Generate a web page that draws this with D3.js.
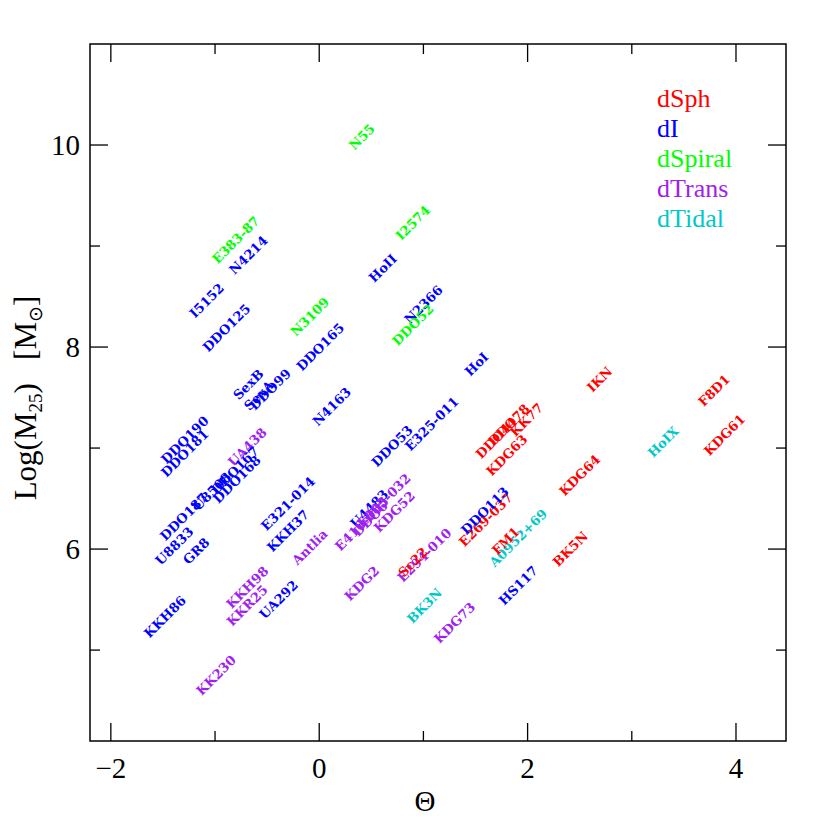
<!DOCTYPE html>
<html>
<head>
<meta charset="utf-8">
<script src="https://cdn.jsdelivr.net/npm/d3@7"></script>
<style>
  body { margin: 0; background: #fff; }
  svg { display: block; }
</style>
</head>
<body>
<svg id="chart" width="830" height="830"></svg>
<script>
// galaxy names, Theta, Log(M25), morphological type
var names = ["N55", "E383-87", "N4214", "I2574", "HoII", "I5152", "N3109", "N2366", "DDO52", "DDO125",
  "DDO165", "SexB", "SexA", "DDO99", "N4163", "HoI", "E325-011", "DDO53", "DDO190", "DDO181",
  "UA438", "DDO187", "U8508", "DDO167", "DDO168", "E321-014", "KKH37", "U8833", "GR8", "Antlia",
  "KKH86", "KKH98", "KKR25", "UA292", "KK230", "U4483", "E410-005", "DDO6", "KDG52", "E383-032",
  "KDG2", "E294-010", "Sc22", "BK3N", "KDG73", "HS117", "A0952+69", "FM1", "E269-037", "DDO113",
  "BK5N", "KDG64", "IKN", "DDO44", "DDO78", "KK77", "KDG63", "HoIX", "F8D1", "KDG61"];
var theta = [0.41, -0.80, -0.68, 0.90, 0.61, -1.08, -0.09, 1.00, 0.90, -0.89,
  0.01, -0.68, -0.58, -0.47, 0.12, 1.51, 1.08, 0.70, -1.29, -1.29,
  -0.69, -1.30, -1.03, -0.81, -0.79, -0.30, -0.30, -1.39, -1.18, -0.09,
  -1.48, -0.69, -0.69, -0.39, -0.99, 0.48, 0.41, 0.49, 0.72, 0.62,
  0.41, 1.01, 0.90, 1.01, 1.30, 1.91, 1.91, 1.79, 1.60, 1.59,
  2.41, 2.50, 2.69, 1.70, 1.82, 1.99, 1.80, 3.30, 3.79, 3.89];
var logM = [10.08, 9.06, 8.91, 9.23, 8.78, 8.46, 8.30, 8.42, 8.22, 8.19,
  8.00, 7.63, 7.52, 7.58, 7.41, 7.83, 7.24, 7.02, 7.08, 6.95,
  7.01, 6.32, 6.57, 6.78, 6.69, 6.45, 6.18, 6.03, 5.98, 6.02,
  5.33, 5.62, 5.44, 5.50, 4.75, 6.40, 6.25, 6.30, 6.37, 6.48,
  5.66, 5.94, 5.87, 5.44, 5.27, 5.64, 6.11, 6.08, 6.29, 6.38,
  6.00, 6.73, 7.68, 7.10, 7.23, 7.28, 6.93, 7.06, 7.57, 7.13];
var types = ["dSpiral", "dSpiral", "dI", "dSpiral", "dI", "dI", "dSpiral", "dI", "dSpiral", "dI",
  "dI", "dI", "dI", "dI", "dI", "dI", "dI", "dI", "dI", "dI",
  "dTrans", "dI", "dI", "dI", "dI", "dI", "dI", "dI", "dI", "dTrans",
  "dI", "dTrans", "dTrans", "dI", "dTrans", "dI", "dTrans", "dTrans", "dTrans", "dTrans",
  "dTrans", "dTrans", "dSph", "dTidal", "dTrans", "dI", "dTidal", "dSph", "dSph", "dI",
  "dSph", "dSph", "dSph", "dSph", "dSph", "dSph", "dSph", "dTidal", "dSph", "dSph"];

var legendTypes = ["dSph", "dI", "dSpiral", "dTrans", "dTidal"];
var legendColors = ["#ff0000", "#0000ff", "#00ff00", "#a020f0", "#00c8c8"];
var xMajor = [-2, 0, 2, 4], xMinor = [-1, 1, 3];
var yMajor = [6, 8, 10], yMinor = [5, 7, 9];

var svg = d3.select("#chart");
var padL = 90, padR = 786, padT = 44, padB = 741;

var x = d3.scaleLinear().domain([-2.2, 4.48]).range([padL, padR]);
var y = d3.scaleLinear().domain([4.1, 11]).range([padB, padT]);
var color = d3.scaleOrdinal().domain(legendTypes).range(legendColors);

var gals = names.map(function(n, i) {
  return {name: n, t: theta[i], m: logM[i], type: types[i]};
});

// frame
svg.append("rect")
  .attr("x", padL).attr("y", padT)
  .attr("width", padR - padL).attr("height", padB - padT)
  .attr("fill", "none").attr("stroke", "#000").attr("stroke-width", 1.5);

var tickG = svg.append("g").attr("stroke", "#000").attr("stroke-width", 1.3);
function xticks(vals, len) {
  vals.forEach(function(v) {
    tickG.append("line").attr("x1", x(v)).attr("x2", x(v)).attr("y1", padB).attr("y2", padB - len);
    tickG.append("line").attr("x1", x(v)).attr("x2", x(v)).attr("y1", padT).attr("y2", padT + len);
  });
}
function yticks(vals, len) {
  vals.forEach(function(v) {
    tickG.append("line").attr("y1", y(v)).attr("y2", y(v)).attr("x1", padL).attr("x2", padL + len);
    tickG.append("line").attr("y1", y(v)).attr("y2", y(v)).attr("x1", padR).attr("x2", padR - len);
  });
}
xticks(xMajor, 18); xticks(xMinor, 10);
yticks(yMajor, 18); yticks(yMinor, 10);

svg.selectAll(".xtl").data(xMajor).enter().append("text")
  .attr("x", function(d) { return x(d); }).attr("y", 778)
  .attr("text-anchor", "middle")
  .style("font", "29px 'Liberation Serif'")
  .text(function(d) { return d < 0 ? "\u2212" + (-d) : d; });

svg.selectAll(".ytl").data(yMajor).enter().append("text")
  .attr("x", 80).attr("y", function(d) { return y(d) + 10; })
  .attr("text-anchor", "end")
  .style("font", "29px 'Liberation Serif'")
  .text(function(d) { return d; });

// axis titles
svg.append("text").attr("x", 425).attr("y", 811).attr("text-anchor", "middle")
  .style("font", "29px 'Liberation Serif'").text("\u0398");

var yl = svg.append("text")
  .attr("transform", "translate(36,398) rotate(-90)")
  .attr("text-anchor", "middle")
  .style("font", "31px 'Liberation Serif'");
yl.append("tspan").text("Log(M");
yl.append("tspan").attr("dy", 6).style("font-size", "19px").text("25");
yl.append("tspan").attr("dy", -6).text(")\u2002 [M");
yl.append("tspan").attr("dy", 6).style("font-size", "19px").text("\u2299");
yl.append("tspan").attr("dy", -6).text("]");

// galaxy labels
svg.append("g").selectAll("text").data(gals).enter().append("text")
  .attr("transform", function(d) { return "translate(" + x(d.t) + "," + y(d.m) + ") rotate(-45)"; })
  .attr("text-anchor", "middle")
  .attr("dy", "0.35em")
  .attr("fill", function(d) { return color(d.type); })
  .style("font", "bold 13px 'DejaVu Serif'")
  .text(function(d) { return d.name; });

// legend
svg.append("g").selectAll("text").data(legendTypes).enter().append("text")
  .attr("x", 657).attr("y", function(d, i) { return 107 + i * 30; })
  .attr("fill", function(d) { return color(d); })
  .style("font", "26px 'Liberation Serif'")
  .text(function(d) { return d; });
</script>
</body>
</html>
